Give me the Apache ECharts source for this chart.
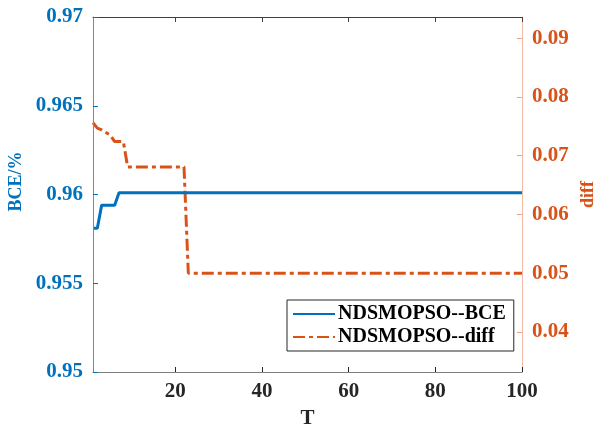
<!DOCTYPE html>
<html>
<head>
<meta charset="utf-8">
<script src="https://cdn.jsdelivr.net/npm/echarts@6/dist/echarts.min.js"></script>
<style>html,body{margin:0;padding:0;background:#fff;overflow:hidden}#c{width:601px;height:427px}</style>
</head>
<body>
<div id="c"></div>
<script>
// Data (vertices; lines are linear between them)
var bceT   = [1, 2, 3, 6, 7, 100];
var bceV   = [0.9581, 0.9581, 0.9594, 0.9594, 0.9601, 0.9601];
var diffT  = [1, 2, 3, 5, 6, 8, 9, 22, 23, 100];
var diffV  = [0.0756, 0.0747, 0.0744, 0.0735, 0.0724, 0.0724, 0.0681, 0.0681, 0.0500, 0.0500];
var xTicks = [20, 40, 60, 80, 100];
var rightTicks = [0.04, 0.05, 0.06, 0.07, 0.08, 0.09];
var names = ['NDSMOPSO--BCE', 'NDSMOPSO--diff'];

function pairs(t, v) { return t.map(function (x, i) { return [x, v[i]]; }); }

var FONT = '"Liberation Serif", "Times New Roman", serif';
var BLUE = '#0072BD', ORANGE = '#D95319';

var chart = echarts.init(document.getElementById('c'), null, { renderer: 'canvas', width: 601, height: 427 });
chart.setOption({
  backgroundColor: '#ffffff',
  animation: false,
  grid: { left: 93, right: 79, top: 17, bottom: 55, containLabel: false, outerBoundsMode: 'none' },
  legend: {
    orient: 'vertical', left: 287, top: 300,
    backgroundColor: '#ffffff', borderColor: '#262626', borderWidth: 1,
    padding: [4, 8, 4, 5], itemGap: 3, itemWidth: 42, itemHeight: 20,
    itemStyle: { opacity: 0 },
    textStyle: { fontFamily: FONT, fontWeight: 'bold', fontSize: 20, color: '#000', padding: [0, 0, 0, -2] },
    data: names
  },
  xAxis: [{
    type: 'value', min: 1, max: 100, position: 'bottom',
    name: 'T', nameLocation: 'middle', nameGap: 36,
    nameTextStyle: { fontFamily: FONT, fontWeight: 'bold', fontSize: 21, color: '#262626' },
    axisLine: { onZero: false, lineStyle: { color: '#808080', width: 1 } },
    axisTick: { inside: true, length: 5, customValues: xTicks, lineStyle: { color: '#262626' } },
    axisLabel: { customValues: xTicks, margin: 9, fontFamily: FONT, fontWeight: 'bold', fontSize: 21, color: '#262626' },
    splitLine: { show: false }
  }, {
    type: 'value', min: 1, max: 100, position: 'top',
    axisLine: { onZero: false, lineStyle: { color: '#404040', width: 1 } },
    axisTick: { inside: true, length: 5, customValues: xTicks, lineStyle: { color: '#404040' } },
    axisLabel: { show: false },
    splitLine: { show: false }
  }],
  yAxis: [{
    type: 'value', min: 0.95, max: 0.97, interval: 0.005, position: 'left', z: 5,
    name: 'BCE/%', nameLocation: 'middle', nameGap: 68, nameRotate: 90,
    nameTextStyle: { fontFamily: FONT, fontWeight: 'bold', fontSize: 18, color: BLUE, padding: [0, 0, 0, 26] },
    axisLine: { show: true, onZero: false, lineStyle: { color: '#4C97D6', width: 1 } },
    axisTick: { show: true, inside: true, length: 5, lineStyle: { color: BLUE } },
    axisLabel: { margin: 10, fontFamily: FONT, fontWeight: 'bold', fontSize: 21, color: BLUE },
    splitLine: { show: false }
  }, {
    type: 'value', min: 0.0332, max: 0.0936, position: 'right',
    name: 'diff', nameLocation: 'middle', nameGap: 55, nameRotate: 90,
    nameTextStyle: { fontFamily: FONT, fontWeight: 'bold', fontSize: 18, color: ORANGE },
    axisLine: { show: true, onZero: false, lineStyle: { color: '#F2BBA5', width: 1 } },
    axisTick: { show: true, inside: true, length: 5, customValues: rightTicks, lineStyle: { color: '#EE9F80' } },
    axisLabel: { margin: 10, customValues: rightTicks, fontFamily: FONT, fontWeight: 'bold', fontSize: 21, color: ORANGE,
      formatter: function (v) { return v.toFixed(2); } },
    splitLine: { show: false }
  }],
  series: [{
    name: names[0], type: 'line', xAxisIndex: 0, yAxisIndex: 0,
    data: pairs(bceT, bceV), symbol: 'none', showSymbol: false,
    lineStyle: { color: BLUE, width: 3 }, itemStyle: { color: BLUE }, z: 3
  }, {
    name: names[1], type: 'line', xAxisIndex: 0, yAxisIndex: 1,
    data: pairs(diffT, diffV), symbol: 'none', showSymbol: false,
    lineStyle: { color: ORANGE, width: 3, type: [12, 4, 4, 4] }, itemStyle: { color: ORANGE }, z: 2
  }]
});
</script>
</body>
</html>
